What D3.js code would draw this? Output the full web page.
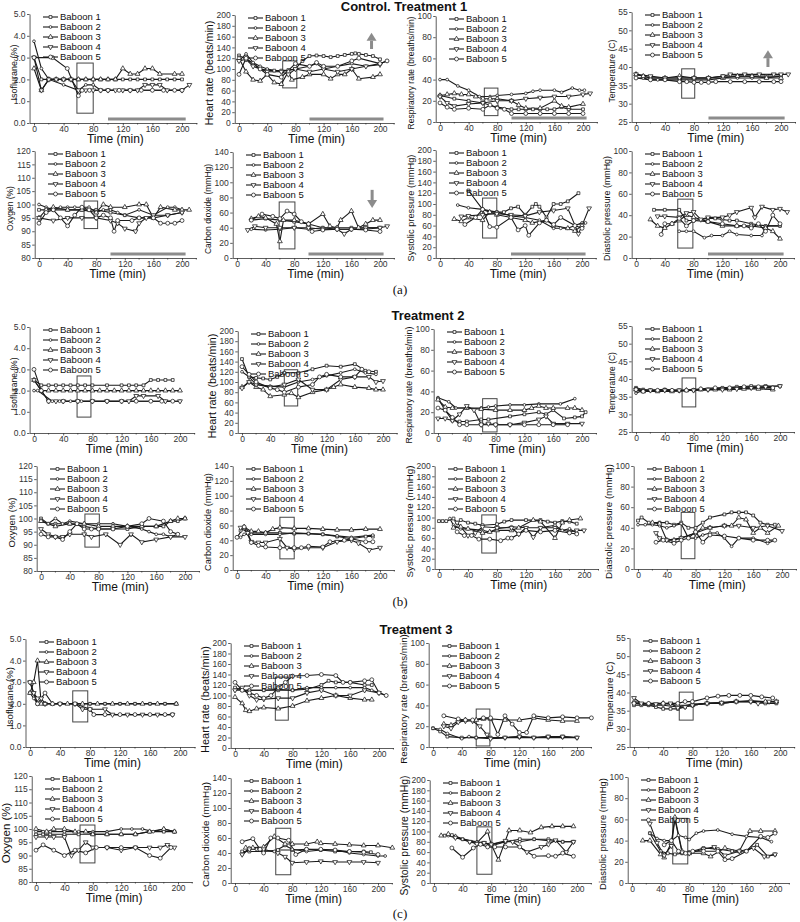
<!DOCTYPE html>
<html><head><meta charset="utf-8">
<script src="https://cdn.jsdelivr.net/npm/d3@7"></script>
<style>body{margin:0;background:#fff} svg{display:block}</style>
</head><body><svg id="c" width="800" height="922"></svg>
<script>
// ---------------- DATA ----------------
const BABOONS = ["Baboon 1","Baboon 2","Baboon 3","Baboon 4","Baboon 5"];
const TREATMENT_TITLES = ["Control. Treatment 1","Treatment 2","Treatment 3"];
const PANEL_LETTERS = ["(a)","(b)","(c)"];
const TIME_TICKS = [0,40,80,120,160,200];
const TIME_MINOR = [20,60,100,140,180,220];
const MEASURE_LABELS = ["Isoflurane (%)","Heart rate (beats/min)","Respiratory rate (breaths/min)","Temperature (C)","Oxygen (%)","Carbon dioxide (mmHg)","Systolic pressure (mmHg)","Diastolic pressure (mmHg)"];
const MEASURE_DOMAINS = [[0,5],[0,200],[0,100],[25,55],[80,120],[0,140],[0,200],[0,100]];
const MEASURE_TICKS = [[0,1,2,3,4,5],[0,20,40,60,80,100,120,140,160,180,200],[0,20,40,60,80,100],[25,30,35,40,45,50,55],[80,85,90,95,100,105,110,115,120],[0,20,40,60,80,100,120,140],[0,20,40,60,80,100,120,140,160,180,200],[0,20,40,60,80,100]];

// Treatment 1
const T1_ISO = [
 [[0,3.0],[10,2.0],[20,2.0],[30,2.0],[40,2.0],[50,2.0],[60,2.0],[70,2.0],[80,2.0],[90,2.0],[100,2.0],[110,2.0],[120,2.0],[130,2.0],[140,2.0],[150,2.0],[160,2.0],[170,2.0],[180,2.0],[190,2.0],[200,2.0]],
 [[0,3.75],[10,2.5],[20,2.0],[40,1.75],[60,1.5],[70,1.75],[80,1.75],[90,1.5],[100,1.5],[120,1.5],[140,1.5],[160,1.5],[180,1.5],[200,1.5]],
 [[0,2.5],[10,1.5],[20,2.0],[30,2.0],[40,2.0],[50,2.0],[60,2.0],[70,2.0],[80,2.0],[90,2.0],[100,2.0],[110,2.0],[120,2.5],[130,2.25],[140,2.25],[150,2.5],[160,2.5],[170,2.25],[190,2.25],[200,2.25]],
 [[0,3.0],[10,1.5],[20,2.0],[30,2.0],[40,2.0],[50,2.0],[60,1.5],[70,1.5],[80,1.5],[90,1.5],[100,1.5],[110,1.5],[120,1.5],[130,1.5],[140,1.5],[150,1.75],[160,1.75],[170,1.75],[180,1.5],[200,1.5],[210,1.75]],
 [[0,3.0],[25,3.0],[45,2.5],[60,1.25],[65,1.5],[75,1.5],[90,1.5],[100,1.5],[115,1.5],[130,1.5],[145,1.5],[160,1.5],[175,1.5],[190,1.5],[200,1.5]]
];
const T1_HR = [
 [[0,125],[10,118],[20,110],[30,100],[40,98],[50,97],[60,97],[70,98],[80,100],[90,115],[100,124],[110,125],[120,124],[130,122],[140,124],[150,126],[160,128],[165,129],[170,128],[180,126],[190,124],[200,118]],
 [[0,115],[10,128],[20,112],[30,105],[40,100],[60,95],[80,100],[100,105],[110,110],[120,100],[140,105],[160,110],[180,105],[200,110],[210,115]],
 [[0,120],[10,95],[20,80],[30,78],[40,90],[50,75],[60,72],[70,95],[75,80],[90,85],[100,90],[120,90],[130,82],[140,90],[150,90],[160,100],[170,82],[190,85],[200,90]],
 [[0,115],[10,118],[20,105],[40,95],[60,95],[70,90],[80,100],[100,95],[120,100],[140,95],[160,100],[180,105],[200,108]],
 [[0,90],[10,120],[30,100],[40,90],[60,85],[80,110],[100,105],[110,112],[120,105],[140,105],[160,115],[170,120],[200,110],[210,115]]
];
const T1_RESP = [
 [[0,25],[20,22],[40,20],[60,18],[80,14],[100,12],[110,12],[120,12],[130,12],[140,12],[150,12],[160,12],[170,14],[180,12],[200,12]],
 [[0,40],[10,40],[25,34],[40,30],[55,24],[70,24],[80,25],[100,26],[120,27],[130,29],[140,30],[160,30],[170,28],[185,32],[195,30],[202,30]],
 [[0,25],[10,26],[20,27],[30,26],[40,26],[50,24],[60,22],[70,22],[80,22],[100,20],[110,16],[120,13],[140,13],[160,20],[170,15],[180,14],[200,17]],
 [[0,24],[10,18],[20,15],[40,17],[60,18],[80,20],[100,20],[120,22],[140,23],[160,24],[180,24],[200,26],[210,27]],
 [[0,18],[10,14],[20,12],[40,13],[60,12],[70,16],[80,13],[90,12],[100,8],[120,8],[140,8],[160,8],[180,8],[200,8]]
];
const T1_TEMP = [
 [[0,38],[10,37.5],[20,37],[40,37],[60,37],[80,37],[100,37],[120,37.5],[140,37.5],[160,37.5],[180,37.5],[200,37.5]],
 [[0,37],[10,37],[20,36.5],[30,36.5],[40,36.5],[60,36.5],[80,36.5],[100,36.5],[120,37],[140,37],[160,37],[180,37],[200,37.5]],
 [[0,38],[10,37.5],[20,37],[40,37],[60,37.5],[80,37],[100,37],[120,37],[140,37.5],[160,37.5],[180,37],[200,37]],
 [[0,38],[20,37.5],[40,37],[60,37],[80,37],[100,37],[120,37.5],[130,38],[150,38],[170,38],[190,38],[200,38],[210,38]],
 [[0,37],[20,36.5],[40,36.5],[60,36],[70,36],[80,35.8],[90,35.8],[100,35.8],[110,36],[130,36],[150,36],[170,36],[190,36],[200,36]]
];
const T1_O2 = [
 [[0,98],[10,98],[20,98],[40,98],[60,98],[80,98],[100,97],[120,96],[140,95],[160,95],[180,96],[200,97]],
 [[0,100],[10,99],[20,98],[30,99],[40,99],[50,99],[60,99],[70,99],[80,97],[90,98],[100,98],[110,97],[120,96],[140,98],[160,96],[180,99],[190,99],[200,98]],
 [[0,95],[10,98],[20,99],[40,98],[60,98],[80,97],[90,100],[100,99],[120,99],[140,100],[150,100],[160,95],[170,99],[190,98],[200,98],[210,98]],
 [[0,95],[20,94],[40,95],[60,95],[80,95],[100,94],[110,93],[120,91],[135,90],[140,93],[150,95],[160,96],[180,96],[200,97]],
 [[0,93],[10,97],[20,98],[30,95],[40,92],[50,96],[60,99],[70,98],[80,95],[90,96],[100,95],[105,90],[110,94],[130,94],[140,95],[160,95],[170,93],[180,93],[190,93],[200,94]]
];
const T1_CO2 = [
 [[20,50],[40,52],[60,50],[80,48],[100,45],[120,40],[140,40],[160,40],[180,40],[200,40]],
 [[20,38],[40,37],[60,38],[80,40],[100,38],[120,40],[140,38],[160,38],[180,38],[200,40]],
 [[20,52],[30,55],[40,53],[55,45],[60,22],[65,50],[80,50],[100,45],[120,58],[130,42],[140,40],[145,50],[160,62],[170,40],[180,45],[190,50],[200,50]],
 [[15,37],[25,42],[40,40],[60,40],[80,40],[100,40],[120,38],[140,38],[150,32],[160,38],[180,40],[200,40],[210,42]],
 [[20,50],[35,58],[50,55],[60,52],[70,62],[80,58],[90,48],[100,45],[105,35],[120,37],[140,38],[160,38],[180,37],[200,35]]
];
const T1_SYS = [
 [[40,125],[60,90],[80,85],[90,85],[100,92],[110,95],[120,80],[130,95],[135,100],[140,95],[150,75],[160,100],[170,100],[180,105],[195,120]],
 [[25,98],[40,93],[60,90],[70,85],[80,85],[100,78],[120,75],[140,70],[160,55],[170,55],[180,55],[200,65],[205,65]],
 [[20,72],[30,68],[40,75],[60,70],[70,85],[80,80],[100,75],[120,70],[130,65],[150,70],[160,60],[180,55],[190,50],[200,60]],
 [[30,77],[40,78],[60,80],[80,82],[100,80],[120,78],[140,85],[160,88],[180,92],[195,45],[200,60],[210,92]],
 [[35,62],[50,75],[60,90],[70,58],[80,57],[100,75],[110,52],[120,60],[125,42],[140,65],[150,70],[160,62],[170,75],[190,60],[200,55]]
];
const T1_DIA = [
 [[25,45],[40,45],[60,45],[70,35],[80,35],[100,37],[110,37],[120,36],[130,35],[140,35],[160,32],[180,30],[200,30]],
 [[60,25],[70,25],[80,25],[95,19],[105,21],[120,21],[130,25],[140,22],[160,21],[175,21],[180,30],[200,30]],
 [[20,36],[30,30],[40,28],[50,32],[60,35],[70,40],[80,38],[100,34],[120,30],[140,30],[160,30],[180,28],[190,25],[200,18]],
 [[30,39],[40,39],[60,38],[70,42],[80,43],[90,36],[100,38],[120,38],[130,40],[140,43],[160,47],[165,38],[175,48],[190,45],[200,46],[210,43]],
 [[35,22],[40,32],[50,32],[60,37],[70,30],[80,35],[100,34],[120,32],[140,30],[150,30],[160,28],[170,32],[180,25],[190,40],[200,32]]
];

// Treatment 2
const T2_ISO = [
 [[0,2.5],[10,2.25],[20,2.25],[30,2.25],[40,2.25],[50,2.25],[60,2.25],[70,2.25],[80,2.25],[100,2.25],[120,2.25],[130,2.25],[140,2.25],[150,2.25],[160,2.5],[170,2.5],[180,2.5],[190,2.5]],
 [[0,2.0],[5,2.0],[25,1.5],[35,1.5],[50,1.5],[65,1.5],[80,1.5],[100,1.5],[120,1.5],[140,1.5],[160,1.5],[180,1.5],[200,1.5]],
 [[0,2.5],[10,2.0],[20,2.0],[30,2.0],[40,2.0],[50,2.0],[60,2.0],[70,2.0],[80,2.0],[90,2.0],[100,2.0],[110,2.0],[120,2.0],[130,2.0],[140,2.0],[150,2.0],[160,2.0],[170,2.0],[180,2.0],[190,2.0],[200,2.0]],
 [[0,2.5],[20,1.5],[30,1.5],[40,1.5],[60,1.5],[80,1.5],[100,1.5],[120,1.5],[130,1.5],[140,1.75],[150,1.75],[170,1.75],[180,1.5],[200,1.5]],
 [[0,3.0],[10,2.0],[20,1.5],[40,1.5],[60,1.5],[80,1.5],[100,1.5],[120,1.5],[140,1.5],[160,1.5],[175,1.5],[190,1.5]]
];
const T2_HR = [
 [[0,145],[10,110],[20,108],[30,107],[40,105],[50,110],[60,118],[80,118],[100,125],[120,132],[140,130],[160,135],[175,122],[190,120]],
 [[0,120],[10,110],[20,95],[40,92],[60,90],[80,100],[100,105],[120,112],[140,118],[160,125],[175,118],[190,115]],
 [[0,90],[10,100],[20,90],[30,85],[40,72],[60,75],[70,78],[80,70],[100,80],[120,85],[130,90],[140,95],[160,90],[180,88],[190,85],[200,85]],
 [[0,88],[10,100],[20,95],[40,90],[60,95],[80,105],[100,85],[120,85],[140,105],[160,110],[180,110],[190,100],[200,102]],
 [[0,130],[10,115],[20,100],[40,88],[50,85],[60,80],[80,90],[100,95],[110,110],[120,115],[140,110],[160,110],[170,125],[180,120]]
];
const T2_RESP = [
 [[0,33],[10,22],[20,12],[30,11],[40,11],[60,13],[70,13],[100,16],[120,18],[140,20],[150,18],[160,22],[175,14],[190,15],[200,16],[205,20]],
 [[0,34],[15,30],[25,24],[40,24],[60,24],[70,25],[80,26],[100,27],[120,27],[140,28],[170,28],[190,33]],
 [[0,32],[10,25],[20,24],[40,24],[60,23],[80,22],[100,22],[120,22],[130,24],[140,26],[150,24],[160,24],[180,24],[190,24],[200,22]],
 [[0,14],[10,14],[20,12],[30,18],[40,26],[50,22],[60,8],[70,9],[80,8],[100,8],[120,10],[140,13],[150,16],[160,9],[180,9],[200,9]],
 [[0,24],[10,22],[20,15],[30,8],[40,8],[60,8],[80,8],[100,8],[120,8],[140,8],[160,8],[180,8]]
];
const T2_TEMP = [
 [[0,37.5],[10,37],[20,36.8],[40,37],[60,36.8],[80,36.8],[100,37],[120,37.5],[140,37.8],[160,38],[180,38],[200,38]],
 [[0,36],[10,36.8],[20,36.8],[40,37],[60,36.5],[80,37],[100,37],[120,37.2],[140,37.5],[160,37.5],[180,37.5],[190,37.5]],
 [[0,37],[10,36.5],[30,36.5],[50,36.5],[70,36.8],[90,37],[110,37],[130,37],[150,37.2],[170,37.2],[190,37]],
 [[0,37],[20,36.8],[40,36.8],[60,36.8],[80,36.8],[100,37],[120,37],[140,37.2],[160,37.5],[180,37.8],[200,38]],
 [[0,37],[10,36.5],[30,36.8],[50,36.8],[70,36.8],[90,37.2],[110,37.5],[130,37.5],[150,37.8],[170,37.8],[190,37.5]]
];
const T2_O2 = [
 [[0,100],[10,98],[20,98],[40,98],[60,97],[80,96],[100,96],[120,96],[140,97],[160,97],[170,97],[180,99],[190,99],[200,100]],
 [[0,99],[10,98],[20,100],[30,98],[40,99],[60,98],[80,98],[100,98],[120,97],[140,96],[150,95],[160,94],[170,94],[180,93],[190,94]],
 [[0,99],[20,97],[40,98],[60,98],[80,97],[100,97],[120,97],[140,97],[160,97],[180,99],[190,100],[200,100]],
 [[0,96],[10,94],[20,93],[30,93],[40,94],[60,94],[70,93],[90,94],[110,90],[125,94],[140,91],[160,92],[180,93],[200,93]],
 [[0,94],[10,93],[20,93],[30,92],[40,95],[50,98],[60,96],[70,96],[80,96],[100,96],[120,97],[140,98],[150,100],[170,99],[180,95],[190,94]]
];
const T2_CO2 = [
 [[5,53],[10,56],[20,50],[40,50],[60,50],[80,49],[100,49],[120,48],[140,45],[160,42],[180,45],[190,45]],
 [[0,44],[5,44],[10,48],[20,48],[40,48],[60,48],[80,50],[100,49],[120,48],[140,46],[160,44],[190,47]],
 [[10,58],[20,52],[30,52],[40,50],[50,55],[60,57],[80,56],[100,56],[120,55],[140,54],[160,54],[180,55],[200,55]],
 [[5,57],[15,50],[20,38],[30,37],[40,37],[60,42],[70,30],[80,28],[100,30],[120,30],[140,38],[160,40],[170,36],[185,27],[200,30]],
 [[0,44],[10,58],[20,37],[30,33],[40,31],[60,30],[80,30],[90,30],[100,32],[120,31],[130,38],[150,40],[160,42],[180,38],[190,38]]
];
const T2_SYS = [
 [[0,93],[5,93],[10,93],[20,98],[25,90],[30,95],[40,90],[50,88],[60,85],[80,87],[90,92],[100,95],[120,95],[140,95],[150,92],[160,90],[170,93],[180,92],[190,88]],
 [[15,98],[20,85],[30,78],[40,78],[60,75],[70,72],[80,78],[100,82],[120,80],[140,80],[160,85],[170,75],[180,78],[190,70]],
 [[20,80],[30,82],[40,78],[60,70],[70,72],[80,75],[100,75],[110,80],[130,95],[140,92],[160,60],[170,90],[180,95],[195,98]],
 [[25,90],[40,65],[50,70],[60,82],[80,80],[100,80],[110,68],[120,80],[130,62],[140,80],[160,80],[180,72],[190,75],[200,75]],
 [[25,72],[35,65],[45,65],[55,58],[70,58],[85,55],[95,60],[100,60],[110,68],[120,75],[140,72],[160,75],[180,70],[190,68]]
];
const T2_DIA = [
 [[0,47],[5,50],[15,45],[30,45],[40,45],[50,43],[60,45],[70,40],[80,40],[90,45],[100,50],[120,53],[130,55],[140,55],[150,55],[160,52],[170,45],[180,43],[190,43]],
 [[0,43],[10,43],[20,43],[30,42],[40,40],[50,42],[60,44],[70,30],[80,30],[90,33],[100,35],[110,35],[120,30],[130,22],[140,30],[160,30],[180,25],[190,28]],
 [[20,45],[30,44],[40,28],[50,28],[60,30],[80,35],[90,40],[100,40],[120,42],[130,42],[140,50],[150,48],[160,35],[170,40],[180,35],[195,42]],
 [[25,35],[30,30],[40,28],[60,30],[80,35],[100,40],[120,42],[140,42],[160,40],[180,42],[200,37]],
 [[25,26],[35,28],[50,25],[60,28],[70,30],[80,36],[90,26],[100,33],[120,32],[140,30],[160,28],[180,28],[190,28]]
];

// Treatment 3
const T3_ISO = [
 [[0,2.5],[5,2.5],[10,2.0],[20,2.0],[40,2.0],[60,2.0],[80,2.0],[100,2.0],[120,2.0],[140,2.0],[160,2.0],[180,2.0],[195,2.0]],
 [[0,2.5],[5,2.25],[10,2.0],[20,2.0],[40,2.0],[60,2.0],[80,2.0],[100,2.0],[120,2.0],[140,2.0],[160,2.0],[180,2.0],[195,2.0]],
 [[0,2.5],[5,3.0],[10,4.0],[15,2.0],[20,2.0],[30,2.0],[50,2.0],[70,2.0],[90,2.0],[110,2.0],[130,2.0],[150,2.0],[170,2.0],[195,2.0]],
 [[0,3.0],[5,2.5],[10,2.25],[15,2.25],[20,2.0],[40,2.0],[60,2.0],[70,1.75],[80,1.75],[100,1.75],[110,1.5],[130,1.5],[150,1.5],[170,1.5],[190,1.5]],
 [[0,3.0],[10,2.0],[20,2.5],[30,2.0],[40,2.0],[60,2.0],[80,1.75],[85,1.5],[100,1.5],[120,1.5],[140,1.5],[160,1.5],[180,1.5],[190,1.5]]
];
const T3_HR = [
 [[0,115],[10,110],[20,110],[40,110],[60,110],[80,110],[100,112],[120,120],[130,128],[140,125],[160,125],[180,120],[190,120]],
 [[0,110],[20,110],[40,110],[60,112],[80,110],[100,115],[120,115],[140,115],[160,115],[180,115],[190,110],[200,105],[210,100]],
 [[0,97],[10,85],[15,72],[20,70],[30,75],[40,77],[60,75],[80,80],[100,90],[120,95],[140,100],[160,95],[180,92],[190,92]],
 [[0,110],[10,115],[20,100],[30,92],[40,93],[60,95],[80,95],[100,105],[120,110],[140,100],[160,100],[180,110],[200,105]],
 [[0,125],[10,110],[20,105],[30,100],[40,95],[50,100],[60,115],[70,125],[80,137],[100,138],[120,140],[140,138],[150,125],[160,125],[180,128],[190,130],[200,105],[210,100]]
];
const T3_RESP = [
 [[0,18],[10,15],[20,10],[40,9],[60,9],[80,9],[100,9],[120,10],[140,9],[160,10],[180,10],[200,9]],
 [[0,18],[10,17],[20,13],[40,8],[50,10],[60,9],[80,8],[100,9],[120,9],[140,9],[160,9],[180,9],[200,9]],
 [[15,22],[25,21],[35,25],[45,26],[60,26],[70,27],[80,27],[100,26],[120,26],[140,28],[160,26],[180,25],[200,25]],
 [[15,20],[25,18],[35,24],[45,25],[55,25],[65,20],[75,12],[80,8],[100,9],[120,10],[140,9],[160,10],[180,10],[200,9]],
 [[15,30],[35,27],[45,26],[55,26],[70,28],[80,28],[90,12],[100,30],[110,22],[120,14],[130,14],[140,30],[160,28],[180,29],[200,28],[220,28]]
];
const T3_TEMP = [
 [[0,36.5],[10,36.5],[20,36.5],[30,36],[40,35.5],[50,35.5],[60,35.5],[70,36],[80,36.5],[100,37],[120,37],[140,37.5],[160,37.5],[180,37],[195,37]],
 [[0,37],[20,36.5],[40,36.5],[60,36],[80,36.8],[100,37],[120,37.2],[140,37.5],[160,37.5],[180,37.5],[195,37.5]],
 [[0,37.5],[20,36.8],[40,37],[60,36.5],[80,36.5],[100,37],[120,37],[140,37.5],[160,37.8],[180,37.5],[195,37.5]],
 [[0,38.5],[10,37],[30,36.8],[50,37],[60,35.8],[70,36],[80,36.5],[100,37],[120,37.2],[140,37.5],[160,37.5],[170,37],[185,37.5],[195,37.5]],
 [[0,37],[20,37],[40,37],[60,37],[70,37.5],[80,37.5],[100,38.5],[115,39],[130,39.2],[145,39.2],[160,39.2],[175,38.8],[190,38.5]]
];
const T3_O2 = [
 [[0,98],[10,98],[20,98],[40,98],[60,98],[80,98],[100,98],[120,98],[140,98],[160,99],[180,99],[195,99]],
 [[0,99],[10,99],[20,99],[40,99],[60,99],[80,99],[100,99],[120,100],[135,100],[150,100],[165,99],[180,100],[195,99]],
 [[0,100],[15,99],[25,100],[40,100],[55,99],[70,99],[80,98],[100,98],[120,98],[140,98],[160,99],[180,100],[195,99]],
 [[0,97],[15,97],[25,97],[40,97],[50,90],[60,92],[70,95],[80,93],[100,93],[120,92],[140,93],[160,93],[175,93],[185,94],[195,93]],
 [[0,92],[10,94],[25,92],[40,90],[55,92],[70,91],[85,93],[100,93],[120,93],[140,93],[160,90],[175,89],[190,93]]
];
const T3_CO2 = [
 [[10,42],[20,42],[40,42],[60,44],[80,44],[100,45],[120,44],[140,42],[160,42],[180,42],[190,41]],
 [[10,38],[20,47],[30,45],[40,43],[55,42],[70,50],[80,45],[100,42],[120,44],[140,44],[160,40],[180,38],[200,36],[210,36]],
 [[15,47],[25,47],[40,48],[55,62],[70,52],[80,52],[100,52],[115,55],[120,53],[140,52],[160,51],[180,50],[200,50],[220,47]],
 [[10,38],[20,45],[40,45],[60,40],[70,35],[80,27],[100,28],[120,29],[140,28],[160,28],[180,28],[200,27]],
 [[10,55],[25,59],[35,45],[40,40],[50,60],[60,60],[75,57],[85,38],[100,45],[120,45],[140,44],[160,42],[180,41],[200,38]]
];
const T3_SYS = [
 [[15,92],[25,93],[40,85],[50,80],[60,78],[70,78],[80,75],[100,80],[120,85],[140,85],[160,85],[180,80],[195,80]],
 [[20,92],[30,88],[40,85],[60,80],[70,78],[80,72],[100,80],[120,80],[140,85],[160,82],[180,80],[195,80]],
 [[10,92],[20,95],[30,90],[60,78],[75,100],[80,75],[90,45],[105,102],[120,102],[135,98],[150,108],[165,110],[180,110],[195,110]],
 [[30,88],[50,80],[60,76],[70,78],[80,75],[100,82],[110,80],[130,60],[150,70],[160,75],[170,83],[185,60],[195,80]],
 [[25,68],[40,50],[55,68],[65,75],[75,70],[85,70],[100,70],[120,70],[140,52],[160,53],[170,52],[180,58],[195,52]]
];
const T3_DIA = [
 [[25,47],[40,30],[50,28],[60,27],[70,28],[80,29],[100,33],[120,32],[140,30],[160,30],[175,36],[190,25],[200,27]],
 [[25,47],[35,42],[45,40],[55,40],[65,45],[75,43],[80,41],[90,47],[100,49],[120,50],[140,46],[160,44],[180,43],[195,39]],
 [[15,40],[25,40],[40,27],[45,24],[55,38],[60,62],[70,30],[80,28],[100,28],[110,25],[130,33],[150,30],[165,49],[180,49],[200,49]],
 [[25,56],[35,38],[45,26],[55,35],[60,60],[70,29],[80,28],[100,32],[115,34],[130,26],[150,30],[170,33],[185,25],[200,27]],
 [[45,36],[55,40],[65,30],[75,28],[85,30],[100,30],[120,30],[130,22],[140,23],[160,30],[180,44],[190,43],[200,47]]
];

// marked window boxes [t1, t2, vLow, vHigh] per measure
const T1_BOXES = [[58,80,0.45,2.75],[62,82,65,115],[62,81,6,32],[63,81,31.5,39.5],[63,82,91,101.3],[59,81,12,74],[60,80,37,111],[58,79,9.3,55]];
const T2_BOXES = [[59,78,0.75,2.69],[60,79,53,124],[62,82,1,33],[64,83,32.1,40.3],[61,81,89.1,101.7],[60,80,15,71],[59,79,31,105],[60,79,10,55]];
const T3_BOXES = [[57,77,1.16,2.6],[56,74,53,135],[60,79,1,36.5],[62,81,32.4,40.1],[62,83,87.2,101.5],[57,78,11,73],[60,81,17,109],[57,78,18,61]];
const T1_BAR = [100,205];
const T1_ARROW_MEASURE = [1,3,5];
const T1_ARROW_T = [188,182,189];
const T1_ARROW_FROM = [137,40,90];
const T1_ARROW_TO = [167,44.6,66];

// ---------------- LAYOUT (positions only) ----------------
const PANEL_BOX = [
 [34,182,14,123],[239,380,15,123],[440,583,16,122],[636,781,12,122],
 [39,182,151,258],[237,380,152,258],[440,582,150,258],[636,780,151,258],
 [34,180,327,433],[242,383,331,433],[438,582,329,433],[636,780,326,432],
 [41,185,466,571],[237,380,466,570],[439,584,466,569],[638,782,466,569],
 [30,180,639,747],[235,379,643,748],[433,577,643,747],[634,780,638,747],
 [36,178,776,882],[235,378,778,883],[434,577,780,883],[632,775,777,883]
];
const YLABEL_LEN = [56,105,113,63, 40,87,107,105, 53,105,117,60, 50,98,112,115, 60,107,130,70, 62,105,120,112];
const TITLE_POS = [[404,10.5],[428,320],[416,634]];
const LETTER_POS = [[400,294],[400,606],[400,918]];

const TREATMENTS = [
 {data:[T1_ISO,T1_HR,T1_RESP,T1_TEMP,T1_O2,T1_CO2,T1_SYS,T1_DIA], boxes:T1_BOXES, bar:true},
 {data:[T2_ISO,T2_HR,T2_RESP,T2_TEMP,T2_O2,T2_CO2,T2_SYS,T2_DIA], boxes:T2_BOXES, bar:false},
 {data:[T3_ISO,T3_HR,T3_RESP,T3_TEMP,T3_O2,T3_CO2,T3_SYS,T3_DIA], boxes:T3_BOXES, bar:false}
];

// ---------------- DRAW ----------------
const svg = d3.select("#c");
const FONT = "'Liberation Sans', Arial, Helvetica, sans-serif";
const SYM = [d3.symbolSquare, d3.symbolCircle, d3.symbolTriangle, d3.symbolTriangle, d3.symbolCircle];
const SYM_SIZE = [8, 6, 10, 10, 12];
const SYM_ROT = [0, 0, 0, 180, 0];
const INK = "#1a1a1a";
const GRAY = "#8c8c8c";

function marker(g, sx, sy, i) {
  g.append("path")
    .attr("d", d3.symbol().type(SYM[i]).size(SYM_SIZE[i])())
    .attr("transform", `translate(${sx},${sy}) rotate(${SYM_ROT[i]})`)
    .attr("fill", "#fff").attr("stroke", INK).attr("stroke-width", 0.75);
}

TREATMENTS.forEach((tr, ti) => {
  svg.append("text").attr("x", TITLE_POS[ti][0]).attr("y", TITLE_POS[ti][1])
    .attr("text-anchor", "middle").attr("font-family", FONT).attr("font-weight", "bold")
    .attr("font-size", 13).attr("fill", "#111").text(TREATMENT_TITLES[ti]);
  svg.append("text").attr("x", LETTER_POS[ti][0]).attr("y", LETTER_POS[ti][1])
    .attr("text-anchor", "middle").attr("font-family", "'Liberation Serif', 'Times New Roman', serif")
    .attr("font-size", 13).attr("fill", "#111").text(PANEL_LETTERS[ti]);

  tr.data.forEach((series, mi) => {
    const pi = ti * 8 + mi;
    const [x0, x200, top, bot] = PANEL_BOX[pi];
    const x = d3.scaleLinear().domain([0, 200]).range([x0, x200]);
    const y = d3.scaleLinear().domain(MEASURE_DOMAINS[mi]).range([bot, top]);
    const g = svg.append("g");
    const axX = x(-6);

    // x axis
    const xa = d3.scaleLinear().domain([-6, 220]).range([x(-6), x(220)]);
    const gx = g.append("g").attr("transform", `translate(0,${bot})`)
      .call(d3.axisBottom(xa).tickValues(TIME_TICKS).tickSize(2.5).tickSizeOuter(0).tickPadding(0).tickFormat(d3.format("d")));
    gx.selectAll(".minor").data(TIME_MINOR).enter().append("line")
      .attr("x1", d => xa(d)).attr("x2", d => xa(d)).attr("y1", 0).attr("y2", 1.5)
      .attr("stroke", "#333").attr("stroke-width", 0.8);
    // y axis
    const gy = g.append("g").attr("transform", `translate(${axX},0)`)
      .call(d3.axisLeft(y).tickValues(MEASURE_TICKS[mi]).tickSize(2.5).tickSizeOuter(0).tickPadding(1.5));
    [gx, gy].forEach(a => {
      a.selectAll("text").attr("font-family", FONT).attr("font-size", 8.5).attr("fill", "#333");
      a.selectAll("path,line").attr("stroke", "#333").attr("stroke-width", 0.8);
    });

    // axis titles
    g.append("text").attr("x", x(110)).attr("y", bot + 20).attr("text-anchor", "middle")
      .attr("font-family", FONT).attr("font-size", 12).attr("fill", "#111").text("Time (min)");
    const digits = String(d3.max(MEASURE_TICKS[mi])).length;
    const lx = axX - digits * 4.7 - 7.5, ly = (top + bot) / 2 + 4;
    const yl = g.append("text").attr("transform", `translate(${lx},${ly}) rotate(-90)`)
      .attr("text-anchor", "middle").attr("font-family", FONT).attr("font-size", 11)
      .attr("fill", "#111").text(MEASURE_LABELS[mi]);
    const natural = yl.node().getComputedTextLength();
    const fs = Math.max(8.5, Math.min(11.5, 11 * YLABEL_LEN[pi] / natural));
    yl.attr("font-size", fs);

    // gray treatment bar
    if (tr.bar) {
      g.append("line").attr("x1", x(T1_BAR[0])).attr("x2", x(T1_BAR[1]))
        .attr("y1", bot - 4).attr("y2", bot - 4).attr("stroke", GRAY).attr("stroke-width", 3);
      const ai = T1_ARROW_MEASURE.indexOf(mi);
      if (ai >= 0) {
        const ax = x(T1_ARROW_T[ai]), yf = y(T1_ARROW_FROM[ai]), yt = y(T1_ARROW_TO[ai]);
        const dir = yt < yf ? -1 : 1;
        const hb = yt - dir * 8;
        g.append("line").attr("x1", ax).attr("x2", ax).attr("y1", yf).attr("y2", hb)
          .attr("stroke", GRAY).attr("stroke-width", 3);
        g.append("path").attr("d", `M${ax - 5},${hb} L${ax + 5},${hb} L${ax},${yt} Z`).attr("fill", GRAY);
      }
    }

    // window box
    const b = tr.boxes[mi];
    g.append("rect").attr("x", x(b[0])).attr("y", y(b[3]))
      .attr("width", x(b[1]) - x(b[0])).attr("height", y(b[2]) - y(b[3]))
      .attr("fill", "none").attr("stroke", "#444").attr("stroke-width", 1);

    // series
    const line = d3.line().x(d => x(d[0])).y(d => y(d[1]));
    series.forEach((pts, si) => {
      g.append("path").attr("d", line(pts)).attr("fill", "none")
        .attr("stroke", INK).attr("stroke-width", 1.1);
    });
    series.forEach((pts, si) => {
      pts.forEach(p => marker(g, x(p[0]), y(p[1]), si));
    });

    // legend
    const lgx = x(0) + 9, lgy = top + 3;
    BABOONS.forEach((name, si) => {
      const yy = lgy + si * 10;
      g.append("line").attr("x1", lgx).attr("x2", lgx + 15).attr("y1", yy).attr("y2", yy)
        .attr("stroke", INK).attr("stroke-width", 1.1);
      marker(g, lgx + 7.5, yy, si);
      g.append("text").attr("x", lgx + 17).attr("y", yy).attr("dy", "0.35em")
        .attr("font-family", FONT).attr("font-size", 9.5).attr("fill", "#111").text(name);
    });
  });
});
</script></body></html>
